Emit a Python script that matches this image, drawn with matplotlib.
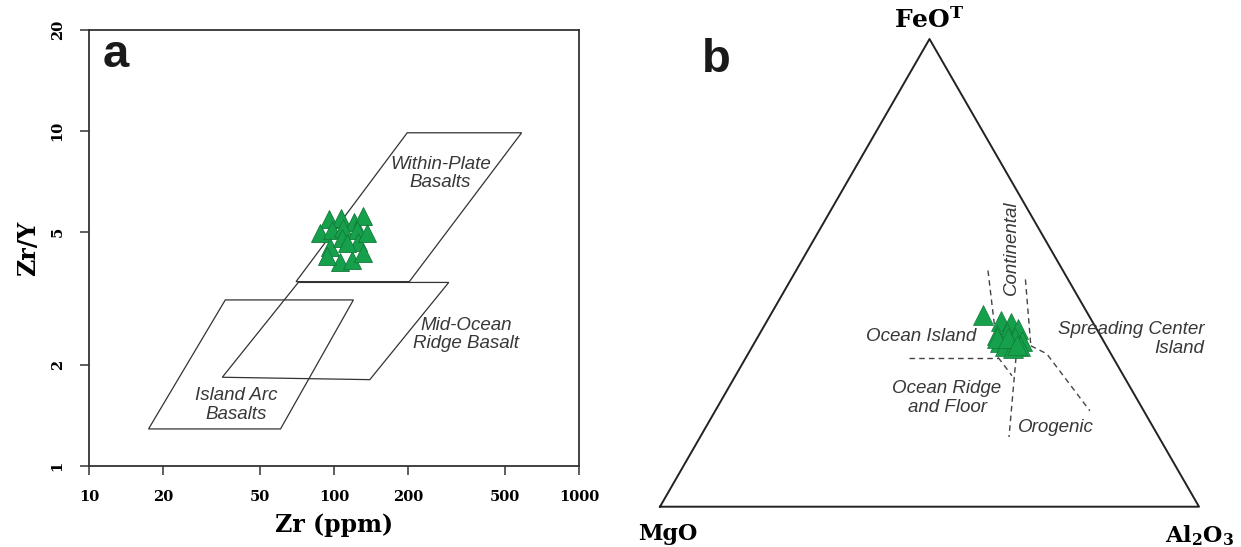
import numpy as np
import matplotlib
matplotlib.use("Agg")
import matplotlib.pyplot as plt

# ---- panel a: Zr vs Zr/Y ----
zr = [95.4, 106.8, 120.6, 131, 87.7, 97.9, 109.2, 124.5, 96.3, 107.5,
      125.7, 136, 105.8, 118.1, 131.7, 93.4, 112.7]
zr_y = [5.45, 5.49, 5.36, 5.58, 4.95, 5.06, 5.12, 5.06, 4.51, 4.78,
        4.67, 4.97, 4.07, 4.12, 4.31, 4.22, 4.62]

wpb_zr = [70, 199, 583, 203]
wpb_zry = [3.55, 9.87, 9.87, 3.55]
morb_zr = [71.5, 294, 140, 35]
morb_zry = [3.53, 3.53, 1.81, 1.84]
iab_zr = [36, 120, 60.5, 17.5]
iab_zry = [3.13, 3.13, 1.29, 1.29]

x_ticks = [10, 20, 50, 100, 200, 500, 1000]
y_ticks = [1, 2, 5, 10, 20]

# ---- panel b: FeOT - MgO - Al2O3 ternary (wt%) ----
feo = [40.9, 39.6, 39.3, 37.9, 36.8, 37.1, 36.1, 35.3, 35.3, 34.6, 34.3,
       34.3, 33.9, 36.1, 36.1, 34.6]
mgo = [19.7, 16.9, 15.3, 14.6, 19.1, 17.1, 16.1, 15.2, 19.3, 17.7, 16.1,
       18.9, 17.5, 19.5, 17.4, 16.5]
al2o3 = [39.4, 43.5, 45.4, 47.5, 44.1, 45.8, 47.8, 49.4, 45.4, 47.6, 49.7,
         46.9, 48.6, 44.4, 46.6, 48.9]

# field boundaries as (FeO, MgO, Al2O3)
bound_cont_left = [(50.5, 13.9, 35.6), (31.9, 21.3, 46.8)]
bound_cont_right = [(48.6, 7.9, 43.5), (34.4, 14.0, 51.6)]
bound_oi = [(31.9, 37.9, 30.2), (31.9, 21.3, 46.8)]
bound_diag = [(31.9, 21.3, 46.8), (28.0, 20.7, 51.3)]
bound_oro = [(31.9, 18.0, 50.1), (14.9, 27.8, 57.3)]
bound_sci = [(34.4, 14.0, 51.6), (32.7, 11.9, 55.4), (20.5, 10.0, 69.5)]

green = "#17a04c"
green_edge = "#0f7a38"
txt_col = "#383838"


def tern(fe, mg, al):
    fe = np.asarray(fe, float)
    mg = np.asarray(mg, float)
    al = np.asarray(al, float)
    tot = fe + mg + al
    x = (al + fe / 2.0) / tot
    y = fe / tot * np.sqrt(3) / 2.0
    return x, y


fig = plt.figure(figsize=(12.41, 5.47), dpi=100)

# panel a
ax = fig.add_axes([89 / 1241, 81 / 547, 490 / 1241, 436 / 547])
ax.set_xscale("log")
ax.set_yscale("log")
ax.set_xlim(10, 1000)
ax.set_ylim(1, 20)

for px, py in [(wpb_zr, wpb_zry), (morb_zr, morb_zry), (iab_zr, iab_zry)]:
    ax.fill(px, py, facecolor="none", edgecolor="#333333", lw=0.9)

ax.plot(zr, zr_y, ls="none", marker="^", ms=13, mfc=green, mec=green_edge,
        mew=0.6, zorder=5)

lab_kw = dict(style="italic", fontsize=13.5, color=txt_col,
              family="Liberation Sans", linespacing=1.1, ha="center",
              va="center")
ax.text(272, 7.45, "Within-Plate\nBasalts", **lab_kw)
ax.text(347, 2.47, "Mid-Ocean\nRidge Basalt", **lab_kw)
ax.text(40, 1.52, "Island Arc\nBasalts", **lab_kw)

ax.xaxis.set_major_locator(matplotlib.ticker.FixedLocator(x_ticks))
ax.yaxis.set_major_locator(matplotlib.ticker.FixedLocator(y_ticks))
ax.xaxis.set_minor_locator(matplotlib.ticker.NullLocator())
ax.yaxis.set_minor_locator(matplotlib.ticker.NullLocator())
ax.set_xticklabels([str(v) for v in x_ticks])
ax.set_yticklabels([str(v) for v in y_ticks])
ax.tick_params(direction="out", length=6.5, width=1.1, color="#333333",
               pad=11, labelsize=10.5)
for lab in ax.get_xticklabels() + ax.get_yticklabels():
    lab.set_family("DejaVu Serif")
    lab.set_weight("bold")
for lab in ax.get_yticklabels():
    lab.set_rotation(90)
    lab.set_va("center")
for sp in ax.spines.values():
    sp.set_color("#333333")
    sp.set_linewidth(1.3)

ax.set_xlabel("Zr (ppm)", family="DejaVu Serif", weight="bold", fontsize=17,
              labelpad=6)
ax.set_ylabel("Zr/Y", family="DejaVu Serif", weight="bold", fontsize=17,
              labelpad=8)

fig.text(103 / 1241, 1 - 67 / 547, "a", family="Liberation Sans",
         weight="bold", fontsize=34, ha="left", va="baseline", color="#1a1a1a")

# panel b
bx = fig.add_axes([660 / 1241, 40.3 / 547, 539 / 1241, 467.7 / 547])
bx.set_xlim(0, 1)
bx.set_ylim(0, np.sqrt(3) / 2)
bx.axis("off")

tx, ty = tern([0, 100, 0, 0], [100, 0, 0, 100], [0, 0, 100, 0])
bx.plot(tx, ty, color="#222222", lw=1.4, clip_on=False)

for seg in [bound_cont_left, bound_cont_right, bound_oi, bound_diag,
            bound_oro, bound_sci]:
    f, m, a = zip(*seg)
    sx, sy = tern(f, m, a)
    bx.plot(sx, sy, color="#444444", lw=1.0, ls=(0, (4, 3)))

px, py = tern(feo, mgo, al2o3)
bx.plot(px, py, ls="none", marker="^", ms=14.5, mfc=green, mec=green_edge,
        mew=0.5, zorder=5)

kw = dict(style="italic", fontsize=13.5, color=txt_col, family="Liberation Sans")
bx.text(0.6512, 0.480, "Continental", rotation=90, ha="center", va="center", **kw)
bx.text(0.4839, 0.316, "Ocean Island", ha="center", va="center", **kw)
bx.text(1.0093, 0.311, "Spreading Center\nIsland", ha="right", va="center",
        multialignment="right", linespacing=1.15, **kw)
bx.text(0.5325, 0.2017, "Ocean Ridge\nand Floor", ha="center", va="center",
        linespacing=1.15, **kw)
bx.text(0.7347, 0.1473, "Orogenic", ha="center", va="center", **kw)

plt.rcParams["mathtext.fontset"] = "dejavuserif"
bx.text(0.5, np.sqrt(3) / 2 + 0.012, r"$\mathbf{FeO^T}$", ha="center",
        va="bottom", fontsize=18, clip_on=False)
bx.text(0.015, -0.03, "MgO", family="DejaVu Serif", weight="bold",
        fontsize=16, ha="center", va="top", clip_on=False)
bx.text(1.0, -0.03, r"$\mathbf{Al_2O_3}$", fontsize=16, ha="center",
        va="top", clip_on=False)

fig.text(701.7 / 1241, 1 - 71.7 / 547, "b", family="Liberation Sans",
         weight="bold", fontsize=34, ha="left", va="baseline", color="#1a1a1a")

fig.savefig("out.png", dpi=100, facecolor="white")
